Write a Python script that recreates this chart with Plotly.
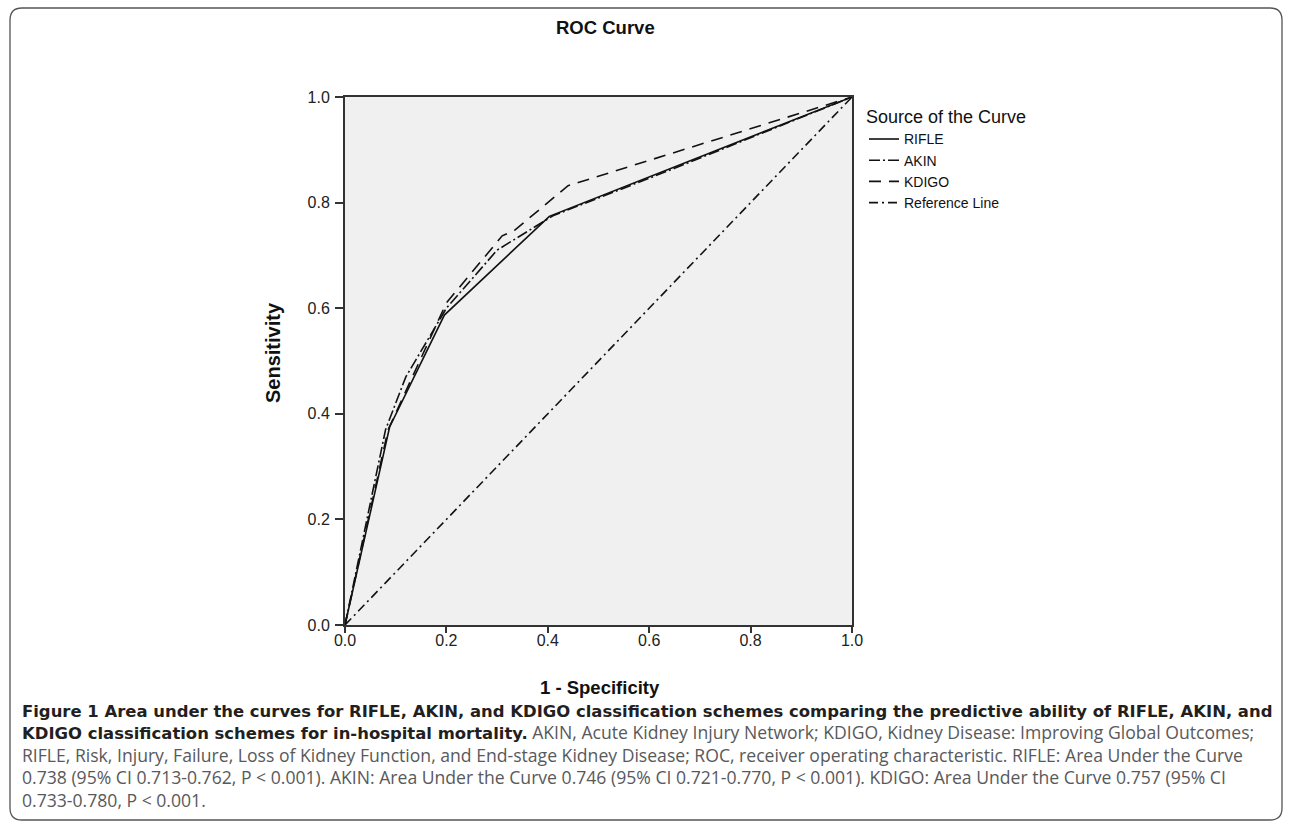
import plotly.graph_objects as go

# ---- data ----
rifle_x = [0.0, 0.088, 0.196, 0.403, 1.0]
rifle_y = [0.0, 0.375, 0.587, 0.774, 1.0]

akin_x = [0.0, 0.08, 0.12, 0.20, 0.30, 0.41, 0.65, 1.0]
akin_y = [0.0, 0.37, 0.47, 0.60, 0.71, 0.775, 0.865, 1.0]

kdigo_x = [0.0, 0.085, 0.20, 0.29, 0.31, 0.335, 0.44, 0.46, 1.0]
kdigo_y = [0.0, 0.37, 0.61, 0.715, 0.737, 0.748, 0.832, 0.838, 1.0]

ref_x = [0.0, 1.0]
ref_y = [0.0, 1.0]

tick_vals = [0.0, 0.2, 0.4, 0.6, 0.8, 1.0]
tick_text = ["0.0", "0.2", "0.4", "0.6", "0.8", "1.0"]

GRAY = "#58595b"
BOLD_SZ = 16.45
REG_SZ = 17.6


def bold(t):
    return (f"<span style='font-family:DejaVu Sans, sans-serif;font-size:{BOLD_SZ}px'>"
            f"<b>{t}</b></span>")


def reg(t):
    return f"<span style='color:{GRAY};font-size:{REG_SZ}px'>{t}</span>"


caption_lines = [
    bold("Figure 1 Area under the curves for RIFLE, AKIN, and KDIGO classification schemes comparing the predictive ability of RIFLE, AKIN, and"),
    bold("KDIGO classification schemes for in-hospital mortality.") + " " +
    reg("AKIN, Acute Kidney Injury Network; KDIGO, Kidney Disease: Improving Global Outcomes;"),
    reg("RIFLE, Risk, Injury, Failure, Loss of Kidney Function, and End-stage Kidney Disease; ROC, receiver operating characteristic. RIFLE: Area Under the Curve"),
    reg("0.738 (95% CI 0.713-0.762, P &lt; 0.001). AKIN: Area Under the Curve 0.746 (95% CI 0.721-0.770, P &lt; 0.001). KDIGO: Area Under the Curve 0.757 (95% CI"),
    reg("0.733-0.780, P &lt; 0.001."),
]

# ---- geometry ----
W, H = 1290, 827
PL, PR, PT, PB = 345, 852, 97, 625  # plot area in pixels
pw, ph = PR - PL, PB - PT


def xp(px):
    return (px - PL) / pw


def yp(py):
    return (PB - py) / ph


fig = go.Figure()
line_col = "#111111"
fig.add_trace(go.Scatter(x=rifle_x, y=rifle_y, mode="lines", name="RIFLE",
                         line=dict(color=line_col, width=1.6)))
fig.add_trace(go.Scatter(x=akin_x, y=akin_y, mode="lines", name="AKIN",
                         line=dict(color=line_col, width=1.6, dash="11px,3px,2px,3px")))
fig.add_trace(go.Scatter(x=kdigo_x, y=kdigo_y, mode="lines", name="KDIGO",
                         line=dict(color=line_col, width=1.6, dash="12px,8px")))
fig.add_trace(go.Scatter(x=ref_x, y=ref_y, mode="lines", name="Reference Line",
                         line=dict(color=line_col, width=1.6, dash="9px,4px,2px,4px")))

ARIAL = "Liberation Sans, Arial, sans-serif"
axis_common = dict(range=[0, 1], tickvals=tick_vals, ticktext=tick_text,
                   showgrid=False, zeroline=False, showline=True,
                   linecolor="#333333", linewidth=2, mirror=True,
                   ticks="outside", tickwidth=2, tickcolor="#333333",
                   tickfont=dict(family=ARIAL, size=16, color="#222222"),
                   fixedrange=True)

fig.update_layout(
    width=W, height=H,
    margin=dict(l=PL, r=W - PR, t=PT, b=H - PB, pad=0),
    paper_bgcolor="white", plot_bgcolor="#f0f0f0",
    xaxis=dict(axis_common, ticklen=6, ticklabelstandoff=-6),
    yaxis=dict(axis_common, ticklen=8, ticklabelstandoff=2),
    showlegend=True,
    legend=dict(x=xp(864), y=yp(100), xanchor="left", yanchor="top",
                bgcolor="rgba(0,0,0,0)", itemwidth=30,
                font=dict(family=ARIAL, size=14, color="#111111"),
                title=dict(text="Source of the Curve",
                           font=dict(family=ARIAL, size=18, color="#111111"))),
)

annotations = [
    dict(text="<b>ROC Curve</b>", x=xp(605), y=yp(27), xref="paper", yref="paper",
         showarrow=False, xanchor="center", yanchor="middle",
         font=dict(family=ARIAL, size=18.5, color="#111111")),
    dict(text="<b>Sensitivity</b>", x=xp(273), y=yp(353), xref="paper", yref="paper",
         showarrow=False, xanchor="center", yanchor="middle", textangle=-90,
         font=dict(family=ARIAL, size=20, color="#111111")),
    dict(text="<b>1 - Specificity</b>", x=xp(600), y=yp(687), xref="paper", yref="paper",
         showarrow=False, xanchor="center", yanchor="middle",
         font=dict(family=ARIAL, size=18.5, color="#111111")),
    dict(text="<br>".join(caption_lines), x=xp(20), y=yp(757), xref="paper", yref="paper",
         showarrow=False, xanchor="left", yanchor="middle", align="left",
         font=dict(family="Open Sans, Noto Sans, sans-serif", size=17.3, color="#231f20")),
]
fig.update_layout(annotations=annotations)

# rounded outer frame
L, R, T, B, r = 10, 1282, 8, 820, 12
path = (f"M {xp(L + r)},{yp(T)} L {xp(R - r)},{yp(T)} Q {xp(R)},{yp(T)} {xp(R)},{yp(T + r)} "
        f"L {xp(R)},{yp(B - r)} Q {xp(R)},{yp(B)} {xp(R - r)},{yp(B)} "
        f"L {xp(L + r)},{yp(B)} Q {xp(L)},{yp(B)} {xp(L)},{yp(B - r)} "
        f"L {xp(L)},{yp(T + r)} Q {xp(L)},{yp(T)} {xp(L + r)},{yp(T)} Z")
fig.add_shape(type="path", path=path, xref="paper", yref="paper",
              line=dict(color="#555555", width=1.3), layer="below")

fig.write_html("out.html", config={"displayModeBar": False},
               post_script="document.body.style.margin='0';document.body.style.overflow='hidden';")
